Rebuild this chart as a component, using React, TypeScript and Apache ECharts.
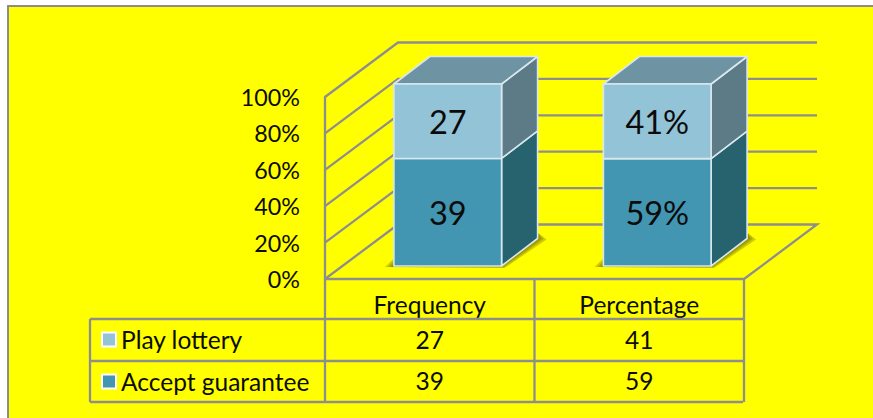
import React, { useEffect, useRef } from "react";
import * as echarts from "echarts";

const categories = ["Frequency", "Percentage"];
const yTicks = [0, 20, 40, 60, 80, 100];
const seriesNames = ["Accept guarantee", "Play lottery"];
const acceptGuarantee = [39, 59];
const playLottery = [27, 41];
const labelSuffix = ["", "%"];

const FONT = "Lato";
const GRID_LINE = "#8E8E8E";
const LINE_WIDTH = 2.3;
const TEXT = "#0C0C00";
const TABLE_FONT_SIZE = 24.5;

// Depth of the floor and of the columns, in pixels along the oblique projection.
const FLOOR_DX = 73;
const FLOOR_DY = -54.5;
const BAR_DX = 36;
const BAR_DY = -27.5;
const BAR_SHIFT_X = 18;
const BAR_SHIFT_Y = -13;
const BAR_RATIO = 0.514;

const palette = [
  { front: "#4296B1", side: "#27626F", top: "#6E94A3" },
  { front: "#93C3D6", side: "#5C7B86", top: "#6E94A3" },
];

const stackRows = categories.flatMap((_, i) => {
  const total = acceptGuarantee[i] + playLottery[i];
  const lower = (acceptGuarantee[i] / total) * 100;
  return [
    { cat: i, series: 0, from: 0, to: lower, value: acceptGuarantee[i] },
    { cat: i, series: 1, from: lower, to: 100, value: playLottery[i] },
  ];
});

function wallItem(_: any, api: any) {
  const p = api.coord([0, api.value(0)]);
  const rect = api.coord([1, 0]);
  const halfBand = api.size([1, 0])[0] / 2;
  const x0 = p[0] - halfBand;
  const x1 = rect[0] + halfBand;
  const isFloor = api.value(0) === 0;
  const points = [
    [x0, p[1]],
    [x0 + FLOOR_DX, p[1] + FLOOR_DY],
    [x1 + FLOOR_DX, p[1] + FLOOR_DY],
  ];
  if (isFloor) points.push([x1, p[1]]);
  return {
    type: "polyline",
    shape: { points },
    style: { stroke: GRID_LINE, lineWidth: LINE_WIDTH, fill: "none" },
  };
}

function barItem(_: any, api: any) {
  const cat = api.value(0);
  const seriesIdx = api.value(1);
  const low = api.coord([cat, api.value(2)]);
  const high = api.coord([cat, api.value(3)]);
  const w = api.size([1, 0])[0] * BAR_RATIO;
  const x0 = low[0] + BAR_SHIFT_X - w / 2;
  const x1 = x0 + w;
  const y0 = low[1] + BAR_SHIFT_Y;
  const y1 = high[1] + BAR_SHIFT_Y;
  const c = palette[seriesIdx];
  const edge = { stroke: "#D9E8EE", lineWidth: 1.6, lineJoin: "round" };
  const children: any[] = [];
  if (seriesIdx === 0) {
    // Soft cast shadow at the foot of the column, built from fading layers.
    [3, 2, 1].forEach((spread) => {
      children.push({
        type: "polygon",
        shape: {
          points: [
            [x0 - 3 * spread, y0 + 1],
            [x1 + spread, y0 + spread * 0.7],
            [x1 + BAR_DX + 3 * spread, y0 + BAR_DY + spread * 0.3],
            [x1 + BAR_DX, y0 + BAR_DY - 6],
            [x0, y0 - 2.5 * spread],
          ],
        },
        style: { fill: "#5F5B00", opacity: 0.3 },
      });
    });
  }
  children.push({
    type: "polygon",
    shape: {
      points: [
        [x1, y0],
        [x1 + BAR_DX, y0 + BAR_DY],
        [x1 + BAR_DX, y1 + BAR_DY],
        [x1, y1],
      ],
    },
    style: { fill: c.side, ...edge },
  });
  if (seriesIdx === 1) {
    children.push({
      type: "polygon",
      shape: {
        points: [
          [x0, y1],
          [x0 + BAR_DX, y1 + BAR_DY],
          [x1 + BAR_DX, y1 + BAR_DY],
          [x1, y1],
        ],
      },
      style: { fill: c.top, ...edge },
    });
  }
  children.push({
    type: "rect",
    shape: { x: x0, y: y1, width: w, height: y0 - y1 },
    style: { fill: c.front, ...edge },
  });
  children.push({
    type: "text",
    style: {
      x: (x0 + x1) / 2,
      y: (y0 + y1) / 2,
      text: `${api.value(4)}${labelSuffix[cat]}`,
      align: "center",
      verticalAlign: "middle",
      fontFamily: FONT,
      fontSize: 32.5,
      fill: "#0B0B0B",
    },
  });
  return { type: "group", children };
}

// Data-table rows under the plot: one cell per category, plus the column dividers.
function tableItem(_: any, api: any) {
  const band = api.size([1, 0])[0];
  const center = api.coord([api.value(0), 0]);
  const text = (y: number, t: any) => ({
    type: "text",
    style: {
      x: center[0],
      y,
      text: String(t),
      align: "center",
      verticalAlign: "middle",
      fontFamily: FONT,
      fontSize: TABLE_FONT_SIZE,
      fill: TEXT,
    },
  });
  const cat = api.value(0);
  return {
    type: "group",
    children: [
      text(center[1] + 60, playLottery[cat]),
      text(center[1] + 101.5, acceptGuarantee[cat]),
      {
        type: "line",
        shape: { x1: center[0] + band / 2, y1: center[1], x2: center[0] + band / 2, y2: center[1] + 123 },
        style: { stroke: GRID_LINE, lineWidth: LINE_WIDTH },
      },
    ],
  };
}

const tableRule = (x1: number, y1: number, x2: number, y2: number) => ({
  type: "line",
  silent: true,
  z: 1,
  shape: { x1, y1, x2, y2 },
  style: { stroke: GRID_LINE, lineWidth: LINE_WIDTH },
});

export default function App() {
  const ref = useRef<HTMLDivElement>(null);

  useEffect(() => {
    document.body.style.margin = "0";
    document.body.style.background = "#FFFFFF";
    const chart = echarts.init(ref.current!, undefined, { renderer: "svg" });
    chart.setOption({
      animation: false,
      backgroundColor: "transparent",
      textStyle: { fontFamily: FONT },
      grid: { left: 325, top: 97, width: 419, height: 182 },
      xAxis: {
        type: "category",
        data: categories,
        axisTick: { show: false },
        axisLine: { lineStyle: { color: GRID_LINE, width: LINE_WIDTH } },
        axisLabel: { fontFamily: FONT, fontSize: TABLE_FONT_SIZE, color: TEXT, margin: 13 },
      },
      yAxis: {
        type: "value",
        min: 0,
        max: 100,
        interval: 20,
        axisLine: { show: true, lineStyle: { color: GRID_LINE, width: LINE_WIDTH } },
        axisTick: { show: false },
        splitLine: { show: false },
        axisLabel: {
          fontFamily: FONT,
          fontSize: 23.3,
          color: TEXT,
          margin: 25,
          formatter: (v: number) => `${v}%`,
        },
      },
      legend: {
        data: [seriesNames[1], seriesNames[0]],
        orient: "vertical",
        left: 96,
        top: 322,
        itemWidth: 14,
        itemHeight: 14,
        itemGap: 17,
        selectedMode: false,
        icon: "rect",
        itemStyle: { borderColor: "#FFFFFF", borderWidth: 2 },
        textStyle: {
          fontFamily: FONT,
          fontSize: TABLE_FONT_SIZE,
          lineHeight: 24.5,
          color: TEXT,
          padding: [0, 0, 0, 0],
        },
      },
      graphic: [
        {
          type: "rect",
          z: -10,
          silent: true,
          shape: { x: 8, y: 6, width: 900, height: 450 },
          style: { fill: "#FFFF00", stroke: "#8C8C8C", lineWidth: 2 },
        },
        tableRule(90, 319, 743, 319),
        tableRule(90, 361, 743, 361),
        tableRule(90, 402, 743, 402),
        tableRule(90, 319, 90, 402),
        tableRule(325, 279, 325, 402),
      ],
      series: [
        {
          type: "custom",
          coordinateSystem: "cartesian2d",
          renderItem: wallItem,
          silent: true,
          z: 1,
          data: yTicks.map((t) => [t]),
          encode: { y: 0 },
        },
        {
          type: "custom",
          coordinateSystem: "cartesian2d",
          renderItem: tableItem,
          silent: true,
          z: 2,
          data: categories.map((_, i) => [i]),
          encode: { x: 0 },
        },
        // Legend entries share the names and colours of the stacked columns.
        ...[0, 1].map((s) => ({
          type: "custom",
          name: seriesNames[s],
          coordinateSystem: "cartesian2d",
          renderItem: barItem,
          silent: true,
          z: 3 + s,
          itemStyle: { color: palette[s].front },
          data: stackRows
            .filter((r) => r.series === s)
            .map((r) => [r.cat, r.series, r.from, r.to, r.value]),
          encode: { x: 0, y: 3 },
        })),
      ],
    });
    return () => chart.dispose();
  }, []);

  return <div ref={ref} style={{ width: 873, height: 418 }} />;
}
